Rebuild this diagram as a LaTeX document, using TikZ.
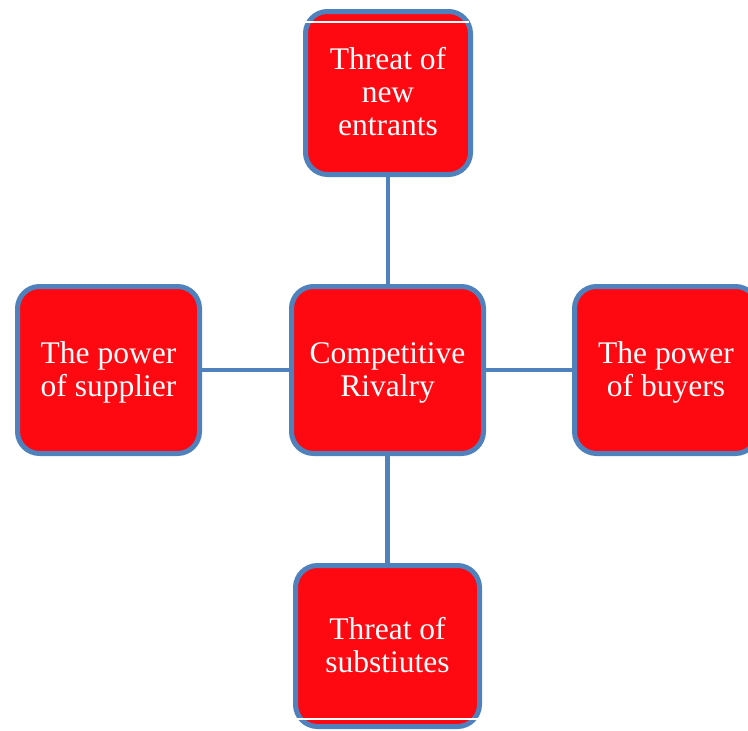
\documentclass[tikz,border=0pt]{standalone}
\usepackage{fontspec}
\setmainfont{Liberation Serif}
\definecolor{boxred}{RGB}{254,8,18}
\definecolor{boxblue}{RGB}{79,129,189}
\newcommand\lstrut{\rule[-7pt]{0pt}{33pt}}
\begin{document}
\begin{tikzpicture}[x=1pt,y=-1pt,
  forcebox/.style={draw=boxblue, line width=5pt, fill=boxred, rounded corners=22pt,
    text=white, align=center, inner sep=0pt,
    font=\fontsize{31.5}{33}\selectfont},
  link/.style={draw=boxblue, line width=4.2pt},
  seam/.style={draw=white, line width=1.2pt}]
\useasboundingbox (0,0) rectangle (748,731);
\clip (0,0) rectangle (748,731);
\node[forcebox, minimum width=165pt, minimum height=163pt] (top) at (388,93) {\lstrut Threat of\\new\\\lstrut entrants};
\node[forcebox, minimum width=192pt, minimum height=167pt] (mid) at (387.5,370) {\lstrut Competitive\\\lstrut Rivalry};
\node[forcebox, minimum width=182pt, minimum height=167pt] (left) at (108.5,370) {\lstrut The power\\\lstrut of supplier};
\node[forcebox, minimum width=183pt, minimum height=167pt] (right) at (666,370) {\lstrut The power\\\lstrut of buyers};
\node[forcebox, minimum width=184pt, minimum height=161pt] (bot) at (387.5,646) {\lstrut Threat of\\\lstrut substiutes};
\draw[link] (top.south) -- (top.south |- mid.north);
\draw[link] (mid.south) -- (mid.south |- bot.north);
\draw[link] (left.east) -- (mid.west);
\draw[link] (mid.east) -- (right.west);
\coordinate (s1a) at (305,22);
\coordinate (s1b) at (469,22);
\coordinate (s2a) at (297,719);
\coordinate (s2b) at (479,719);
\draw[seam] (s1a) -- (s1b);
\draw[seam] (s2a) -- (s2b);
\end{tikzpicture}
\end{document}
